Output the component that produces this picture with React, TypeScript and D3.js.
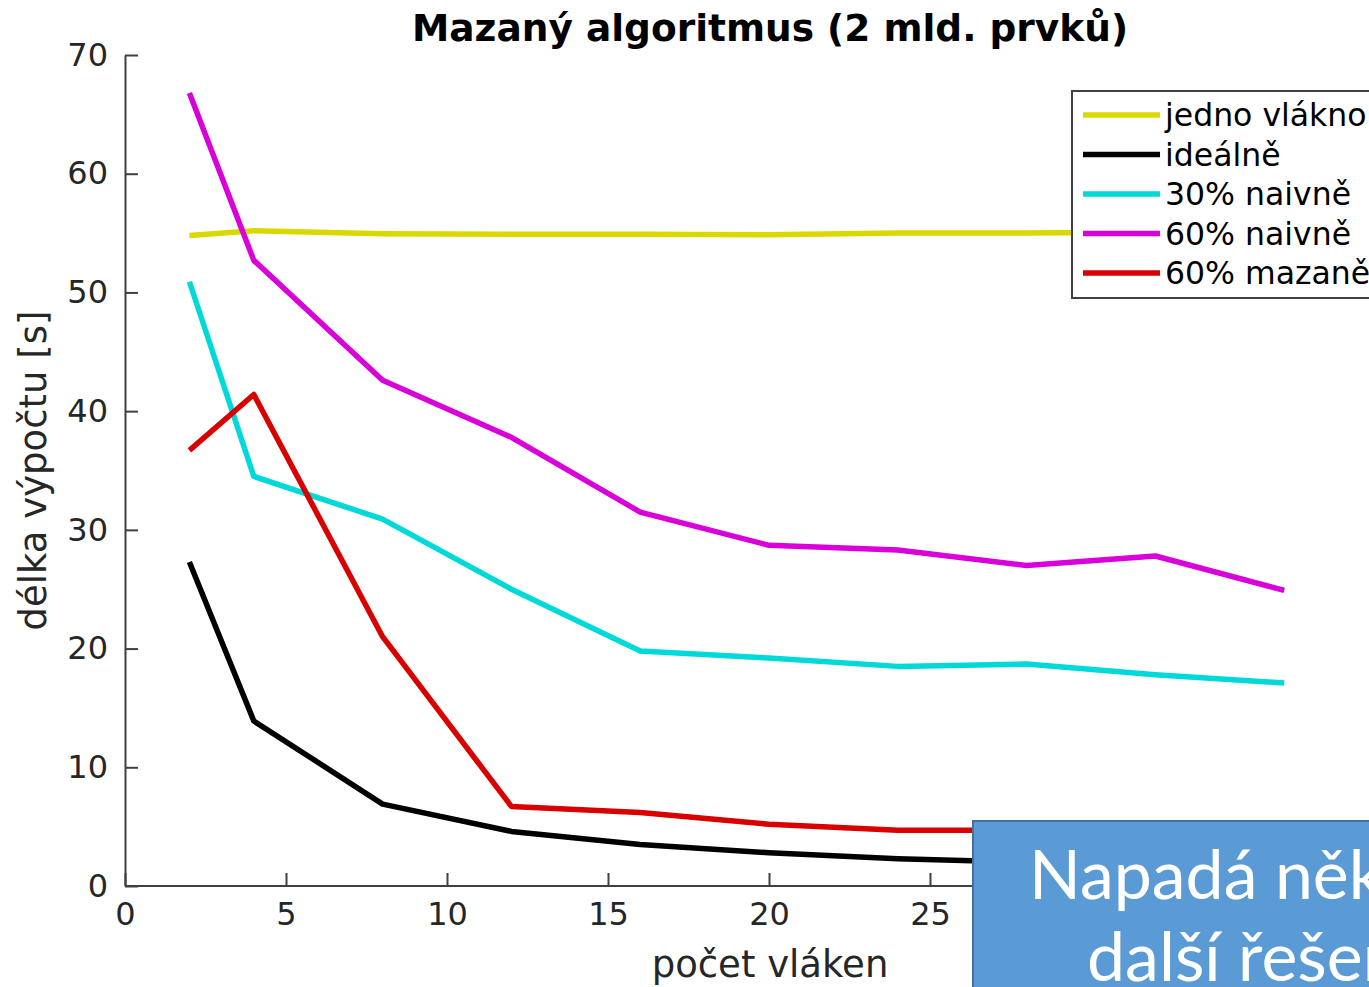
import React, { useEffect, useRef } from "react";
import * as d3 from "d3";

// threads (x)
const threads = [2, 4, 8, 12, 16, 20, 24, 28, 32, 36];

// seconds per series
const jednoVlakno = [54.8, 55.2, 54.95, 54.9, 54.9, 54.85, 55.0, 55.0, 55.1, 55.0];
const idealne = [27.3, 13.9, 6.9, 4.6, 3.5, 2.8, 2.3, 2.0, 1.7, 1.5];
const naivne30 = [50.9, 34.5, 30.9, 25.0, 19.8, 19.2, 18.5, 18.7, 17.8, 17.1];
const naivne60 = [66.8, 52.7, 42.6, 37.8, 31.5, 28.7, 28.3, 27.0, 27.8, 24.9];
const mazane60 = [36.7, 41.4, 21.0, 6.7, 6.2, 5.2, 4.7, 4.7, 4.6, 4.5];

const seriesNames = ["jedno vlákno", "ideálně", "30% naivně", "60% naivně", "60% mazaně"];
const seriesValues = [jednoVlakno, idealne, naivne30, naivne60, mazane60];
const seriesColors = ["#d9d900", "#000000", "#00d9d9", "#d900d9", "#d90000"];

// ticks past 25 sit under the callout box
const xTicks = [0, 5, 10, 15, 20, 25];
const yTicks = [0, 10, 20, 30, 40, 50, 60, 70];

const title = "Mazaný algoritmus (2 mld. prvků)";
const xLabel = "počet vláken";
const yLabel = "délka výpočtu [s]";
const calloutLines = ["Napadá někoho", "další řešení?"];

const W = 1369;
const H = 987;
const FONT = "DejaVu Sans, sans-serif";

const App = () => {
  const svgRef = useRef<SVGSVGElement>(null);

  useEffect(() => {
    const svg = d3.select(svgRef.current);
    svg.selectAll("*").remove();

    const x = d3.scaleLinear().domain([0, 40]).range([125, 1413]);
    const y = d3.scaleLinear().domain([0, 70]).range([886, 55]);

    // lines first
    const line = d3
      .line<number>()
      .x((d, i) => x(threads[i]))
      .y((d) => y(d));

    svg
      .append("g")
      .selectAll("path")
      .data(seriesValues)
      .join("path")
      .attr("d", (d) => line(d))
      .attr("fill", "none")
      .attr("stroke", (d, i) => seriesColors[i])
      .attr("stroke-width", 5.5)
      .attr("stroke-linejoin", "round");

    //axes, ticks inside like matlab
    const xAxis = d3.axisBottom(x).tickValues(xTicks).tickSize(-13).tickSizeOuter(0).tickPadding(16);
    const yAxis = d3.axisLeft(y).tickValues(yTicks).tickSize(-13).tickSizeOuter(0).tickPadding(17);

    const gx = svg.append("g").attr("transform", `translate(0,${y(0)})`).call(xAxis);
    const gy = svg.append("g").attr("transform", `translate(${x(0)},0)`).call(yAxis);
    gx.select(".domain").attr("d", `M${x(0)},0H${x(40)}`);

    [gx, gy].forEach((g) => {
      g.selectAll("path, line").attr("stroke", "#404040").attr("stroke-width", 2);
      g.selectAll("text")
        .attr("fill", "#262626")
        .style("font-family", FONT)
        .style("font-size", "32px");
    });

    svg
      .append("text")
      .attr("x", 770)
      .attr("y", 41)
      .attr("text-anchor", "middle")
      .style("font-family", FONT)
      .style("font-size", "37.5px")
      .style("font-weight", "bold")
      .attr("fill", "#000")
      .text(title);

    svg
      .append("text")
      .attr("x", 770)
      .attr("y", 977)
      .attr("text-anchor", "middle")
      .style("font-family", FONT)
      .style("font-size", "37px")
      .attr("fill", "#262626")
      .text(xLabel);

    svg
      .append("text")
      .attr("transform", `translate(46,${(y(0) + y(70)) / 2}) rotate(-90)`)
      .attr("text-anchor", "middle")
      .style("font-family", FONT)
      .style("font-size", "37px")
      .attr("fill", "#262626")
      .text(yLabel);

    // legend
    const lg = svg.append("g").attr("transform", "translate(1072,91)");
    lg.append("rect")
      .attr("width", 340)
      .attr("height", 207)
      .attr("fill", "#fff")
      .attr("stroke", "#404040")
      .attr("stroke-width", 2);
    const rows = lg
      .selectAll("g.row")
      .data(seriesNames)
      .join("g")
      .attr("class", "row")
      .attr("transform", (d, i) => `translate(0,${24 + i * 39.5})`);
    rows
      .append("line")
      .attr("x1", 11)
      .attr("x2", 88)
      .attr("stroke", (d, i) => seriesColors[i])
      .attr("stroke-width", 5.5);
    rows
      .append("text")
      .attr("x", 93)
      .attr("dy", "0.36em")
      .style("font-family", FONT)
      .style("font-size", "31.5px")
      .attr("fill", "#000")
      .text((d) => d);

    // callout box on top
    const cg = svg.append("g").attr("transform", "translate(973,821)");
    cg.append("rect")
      .attr("width", 600)
      .attr("height", 300)
      .attr("fill", "#5b9bd5")
      .attr("stroke", "#41719c")
      .attr("stroke-width", 2);
    cg.selectAll("text")
      .data(calloutLines)
      .join("text")
      .attr("x", (d, i) => (i === 0 ? 56 : 114))
      .attr("y", (d, i) => 78 + i * 82)
      .style("font-family", "Lato, Open Sans, sans-serif")
      .style("font-size", "68px")
      .attr("fill", "#fff")
      .text((d) => d);
  }, []);

  return (
    <svg
      ref={svgRef}
      width={W}
      height={H}
      style={{ position: "absolute", left: 0, top: 0, background: "#fff", overflow: "hidden" }}
    />
  );
};

export default App;
